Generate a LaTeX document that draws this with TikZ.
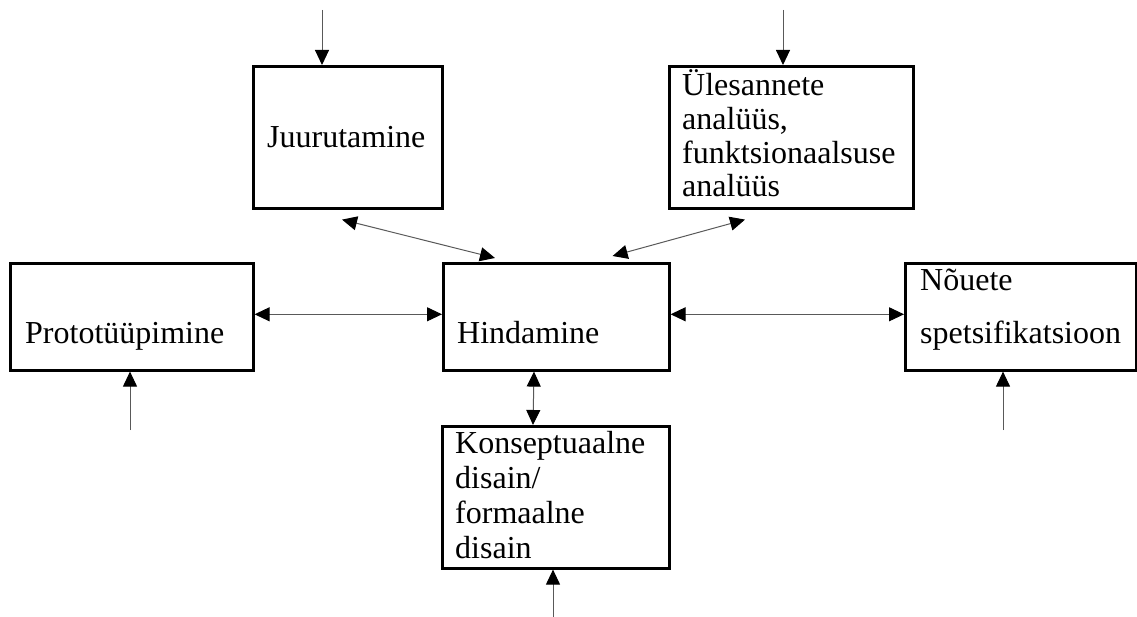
\documentclass[tikz,border=0pt]{standalone}
\usepackage{fontspec}
\setmainfont{Liberation Serif}
\usetikzlibrary{arrows.meta}
\begin{document}
\begin{tikzpicture}[x=1pt,y=-1pt,
  box/.style={draw=black, line width=2.6pt, rectangle, inner sep=0pt, anchor=north west},
  txt/.style={anchor=base west, inner sep=0pt, font=\fontsize{32}{34}\selectfont},
  link/.style={draw=black!65, line width=1pt},
  tip/.style={Triangle[length=15pt, width=14pt, color=black]},
  one/.style={link, arrows={-Triangle[length=15pt, width=14pt, color=black]}},
  two/.style={link, arrows={Triangle[length=15pt, width=14pt, color=black]-Triangle[length=15pt, width=14pt, color=black]}}]
\useasboundingbox (0,0) rectangle (1137,617);

% boxes
\node[box, minimum width=189pt, minimum height=142pt] (juur) at (252,65) {};
\node[box, minimum width=244pt, minimum height=142pt] (ules) at (668,65) {};
\node[box, minimum width=243pt, minimum height=107pt] (proto) at (9,262) {};
\node[box, minimum width=226pt, minimum height=107pt] (hind) at (442,262) {};
\node[box, minimum width=231pt, minimum height=107pt] (noue) at (904,262) {};
\node[box, minimum width=227pt, minimum height=142pt] (kons) at (441,425) {};

% labels
\node[txt] (juurt) at (267,148) {Juurutamine};
\node[txt] (ules1) at (682,96) {Ülesannete};
\node[txt] (ules2) at (682,130) {analüüs,};
\node[txt] (ules3) at (682,164) {funktsionaalsuse};
\node[txt] (ules4) at (682,197) {analüüs};
\node[txt] (protot) at (25,344) {Prototüüpimine};
\node[txt] (hindt) at (457,344) {Hindamine};
\node[txt] (noue1) at (920,291) {Nõuete};
\node[txt] (noue2) at (920,343) {spetsifikatsioon};
\node[txt] (kons1) at (455,453) {Konseptuaalne};
\node[txt] (kons2) at (455,488) {disain/};
\node[txt] (kons3) at (455,523) {formaalne};
\node[txt] (kons4) at (455,558) {disain};

% free ends of the input arrows
\coordinate (inJ) at (322,10);
\coordinate (inU) at (783,10);
\coordinate (inP) at (130,430);
\coordinate (inN) at (1003,430);
\coordinate (inK) at (553,617);

% input arrows
\draw[one] (inJ) -- (inJ |- juur.north);
\draw[one] (inU) -- (inU |- ules.north);
\draw[one] (inP) -- (inP |- proto.south);
\draw[one] (inN) -- (inN |- noue.south);
\draw[one] (inK) -- (inK |- kons.south);

% links to the evaluation box
\draw[two] ([xshift=90pt,yshift=-10pt]juur.south west) -- ([xshift=53pt,yshift=4pt]hind.north west);
\draw[two] ([xshift=77pt,yshift=-10pt]ules.south west) -- ([xshift=-58pt,yshift=6pt]hind.north east);
\draw[two] ([yshift=2.5pt]proto.east) -- ([yshift=2.5pt]hind.west);
\draw[two] ([yshift=2.5pt]hind.east) -- ([yshift=2.5pt]noue.west);
\draw[two] ([xshift=92pt]hind.south west) -- ([xshift=92pt]kons.north west);
\end{tikzpicture}
\end{document}
